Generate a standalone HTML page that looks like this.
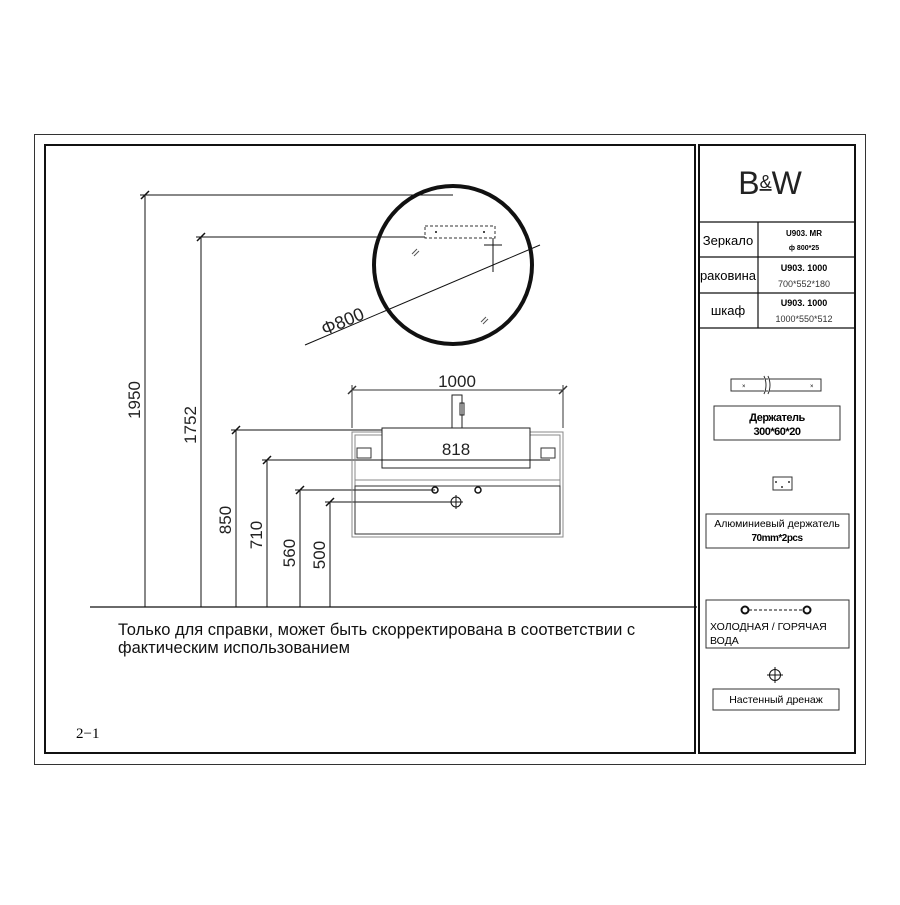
<!DOCTYPE html>
<html><head><meta charset="utf-8"><style>
body{margin:0;background:#fff}
svg text{font-family:"Liberation Sans",sans-serif}
</style></head><body>
<svg width="900" height="900" viewBox="0 0 900 900" xmlns="http://www.w3.org/2000/svg">
<rect x="0" y="0" width="900" height="900" fill="#fff"/>
<rect x="34.5" y="134.5" width="831" height="630" fill="none" stroke="#333" stroke-width="1"/>
<rect x="45" y="145" width="650" height="608" fill="none" stroke="#111" stroke-width="2"/>
<rect x="699" y="145" width="156" height="608" fill="none" stroke="#111" stroke-width="2"/>
<!-- right panel -->
<text x="770" y="194" font-size="32" text-anchor="middle" fill="#222">B<tspan font-size="18" dy="-6" text-decoration="underline">&amp;</tspan><tspan dy="6">W</tspan></text>
<g stroke="#111" stroke-width="1.2">
<line x1="699" y1="222" x2="855" y2="222"/><line x1="699" y1="257" x2="855" y2="257"/>
<line x1="699" y1="293" x2="855" y2="293"/><line x1="699" y1="328" x2="855" y2="328"/>
<line x1="758" y1="222" x2="758" y2="328"/>
</g>
<text x="728" y="245" font-size="13" text-anchor="middle">Зеркало</text>
<text x="728" y="280" font-size="13" text-anchor="middle">раковина</text>
<text x="728" y="315" font-size="13" text-anchor="middle">шкаф</text>
<text x="804" y="236" font-size="8" font-weight="bold" text-anchor="middle">U903. MR</text>
<text x="804" y="250" font-size="7" font-weight="bold" text-anchor="middle">ф 800*25</text>
<text x="804" y="271" font-size="9" font-weight="bold" text-anchor="middle">U903. 1000</text>
<text x="804" y="287" font-size="9" text-anchor="middle" fill="#333">700*552*180</text>
<text x="804" y="306" font-size="9" font-weight="bold" text-anchor="middle">U903. 1000</text>
<text x="804" y="322" font-size="9" text-anchor="middle" fill="#333">1000*550*512</text>
<rect x="731" y="379" width="90" height="12" fill="none" stroke="#333"/>
<path d="M764 376 q4 9 0 18 M768 376 q4 9 0 18" stroke="#333" fill="#fff"/>
<text x="742" y="388" font-size="6">×</text><text x="810" y="388" font-size="6">×</text>
<rect x="714" y="406" width="126" height="34" fill="none" stroke="#333"/>
<text x="777" y="421" font-size="11" font-weight="bold" text-anchor="middle" letter-spacing="-0.5">Держатель</text>
<text x="777" y="435" font-size="11" font-weight="bold" text-anchor="middle" letter-spacing="-0.5">300*60*20</text>
<rect x="773" y="477" width="19" height="13" fill="none" stroke="#333"/>
<circle cx="776" cy="482" r="1" fill="#333"/><circle cx="789" cy="482" r="1" fill="#333"/><circle cx="782" cy="487" r="1" fill="#333"/>
<rect x="706" y="514" width="143" height="34" fill="none" stroke="#333"/>
<text x="777" y="527" font-size="10.5" text-anchor="middle">Алюминиевый держатель</text>
<text x="777" y="541" font-size="10" font-weight="bold" text-anchor="middle" letter-spacing="-0.5">70mm*2pcs</text>
<rect x="706" y="600" width="143" height="48" fill="none" stroke="#333"/>
<circle cx="745" cy="610" r="3.5" fill="none" stroke="#111" stroke-width="2"/>
<circle cx="807" cy="610" r="3.5" fill="none" stroke="#111" stroke-width="2"/>
<line x1="749" y1="610" x2="803" y2="610" stroke="#111" stroke-dasharray="3,2"/>
<text x="710" y="630" font-size="10.5">ХОЛОДНАЯ / ГОРЯЧАЯ</text>
<text x="710" y="644" font-size="10.5">ВОДА</text>
<circle cx="775" cy="675" r="5.5" fill="none" stroke="#111"/>
<line x1="767" y1="675" x2="783" y2="675" stroke="#111"/><line x1="775" y1="667" x2="775" y2="683" stroke="#111"/>
<rect x="713" y="689" width="126" height="21" fill="none" stroke="#333"/>
<text x="776" y="703" font-size="10.5" text-anchor="middle">Настенный дренаж</text>
<!-- drawing -->
<line x1="90" y1="607" x2="697" y2="607" stroke="#111" stroke-width="1.2"/>
<g stroke="#111" stroke-width="1">
<line x1="145" y1="195" x2="145" y2="607"/><line x1="140" y1="195" x2="453" y2="195"/>
<line x1="201" y1="237" x2="201" y2="607"/><line x1="196" y1="237" x2="425" y2="237"/>
<line x1="236" y1="430" x2="236" y2="607"/><line x1="231" y1="430" x2="382" y2="430"/>
<line x1="267" y1="460" x2="267" y2="607"/><line x1="262" y1="460" x2="545" y2="460"/>
<line x1="300" y1="490" x2="300" y2="607"/><line x1="295" y1="490" x2="435" y2="490"/>
<line x1="330" y1="502" x2="330" y2="607"/><line x1="325" y1="502" x2="456" y2="502"/>
<path d="M141 199 L149 191 M197 241 L205 233 M232 434 L240 426 M263 464 L271 456 M296 494 L304 486 M326 506 L334 498" stroke-width="1.5"/>
</g>
<g font-size="17" fill="#222">
<text transform="translate(140 400) rotate(-90)" text-anchor="middle">1950</text>
<text transform="translate(196 425) rotate(-90)" text-anchor="middle">1752</text>
<text transform="translate(231 520) rotate(-90)" text-anchor="middle">850</text>
<text transform="translate(262 535) rotate(-90)" text-anchor="middle">710</text>
<text transform="translate(295 553) rotate(-90)" text-anchor="middle">560</text>
<text transform="translate(325 555) rotate(-90)" text-anchor="middle">500</text>
</g>
<!-- mirror -->
<circle cx="453" cy="265" r="79" fill="none" stroke="#111" stroke-width="4"/>
<rect x="425" y="226" width="70" height="12" fill="none" stroke="#333" stroke-dasharray="3,2"/>
<circle cx="436" cy="232" r="1" fill="#111"/><circle cx="484" cy="232" r="1" fill="#111"/>
<line x1="493" y1="238" x2="493" y2="272" stroke="#111"/><line x1="484" y1="245" x2="502" y2="245" stroke="#111"/>
<path d="M412 254 l5 -5 M414 256 l5 -5 M481 322 l5 -5 M483 324 l5 -5" stroke="#555"/>
<line x1="305" y1="345" x2="540" y2="245" stroke="#111"/>
<text transform="translate(345 327) rotate(-23)" font-size="18" text-anchor="middle" fill="#222">Φ800</text>
<!-- cabinet -->
<g stroke="#333" fill="none">
<line x1="352" y1="390" x2="563" y2="390"/>
<line x1="352" y1="385" x2="352" y2="428"/><line x1="563" y1="385" x2="563" y2="428"/>
<path d="M348 394 L356 386 M559 394 L567 386" stroke-width="1.5"/>
<rect x="352" y="432" width="211" height="105" stroke="#888"/>
<rect x="355" y="435" width="205" height="99" stroke="#888"/>
<line x1="355" y1="480" x2="560" y2="480" stroke="#888"/>
<rect x="355" y="486" width="205" height="48" stroke="#333"/>
<rect x="382" y="428" width="148" height="40" fill="#fff" stroke="#222"/>
<rect x="452" y="395" width="10" height="33" fill="#fff" stroke="#222"/>
<rect x="460" y="403" width="4" height="12" stroke="#222"/>
<rect x="357" y="448" width="14" height="10" stroke="#333"/>
<rect x="541" y="448" width="14" height="10" stroke="#333"/>
<circle cx="435" cy="490" r="3" stroke="#111" stroke-width="1.5"/>
<circle cx="478" cy="490" r="3" stroke="#111" stroke-width="1.5"/>
<circle cx="456" cy="502" r="5" stroke="#111"/>
<line x1="449" y1="502" x2="463" y2="502" stroke="#111"/><line x1="456" y1="495" x2="456" y2="509" stroke="#111"/>
</g>
<line x1="362" y1="460" x2="550" y2="460" stroke="#111"/>
<text x="457" y="387" font-size="17" text-anchor="middle" fill="#222">1000</text>
<text x="456" y="455" font-size="17" text-anchor="middle" fill="#222">818</text>
<text x="118" y="635" font-size="16.5" fill="#111">Только для справки, может быть скорректирована в соответствии с</text>
<text x="118" y="653" font-size="16.5" fill="#111">фактическим использованием</text>
<text x="76" y="738" font-size="15" style="font-family:'Liberation Serif',serif">2−1</text>
</svg>
</body></html>
